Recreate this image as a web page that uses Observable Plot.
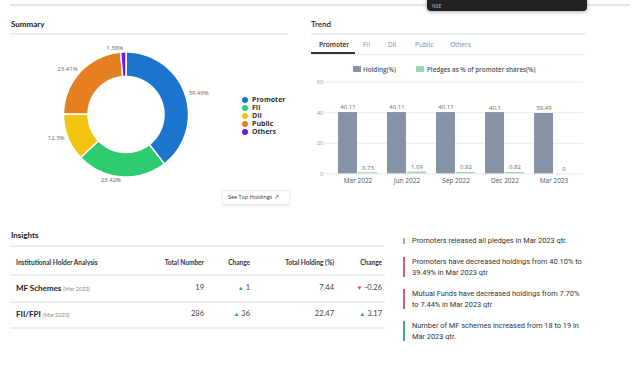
<!DOCTYPE html>
<html><head><meta charset="utf-8">
<script src="https://cdn.jsdelivr.net/npm/d3@7"></script>
<script src="https://cdn.jsdelivr.net/npm/@observablehq/plot@0.6"></script>
<style>
html,body{margin:0;padding:0;background:#fff;}
#page{position:relative;width:634px;height:366px;overflow:hidden;font-family:Lato,"Open Sans",sans-serif;color:#222;}
.abs{position:absolute;white-space:nowrap;}
.title{font-size:8px;font-weight:700;color:#222;}
.hr{position:absolute;height:2px;background:#eeeeee;}
.tab{position:absolute;top:40px;font-size:6.5px;color:#888;font-family:"Open Sans",sans-serif;}
.leg{position:absolute;left:242px;font-size:7px;font-weight:700;color:#333;font-family:"Open Sans",sans-serif;}
.leg i{display:inline-block;width:6px;height:6px;border-radius:50%;margin-right:4px;vertical-align:-1px;}
.th{position:absolute;top:259px;font-size:6.5px;font-weight:700;color:#333;}
.td{position:absolute;font-size:7.5px;color:#444;text-align:right;}
.ins{position:absolute;left:412px;width:172px;font-family:Roboto,sans-serif;font-size:7.4px;line-height:10.5px;color:#333;white-space:normal;}
.bar{position:absolute;left:403px;width:1.5px;}
</style></head>
<body><div id="page"></div>
<script>
// ---------- data ----------
const holders = ["Promoter","FII","DII","Public","Others"];
const holderPct = [39.49, 23.42, 12.3, 23.41, 1.38];
const holderColors = ["#1b74cd","#2ecc71","#f2c40f","#e67e22","#7018e8"];

const quarters = ["Mar 2022","Jun 2022","Sep 2022","Dec 2022","Mar 2023"];
const holding = [40.11, 40.11, 40.11, 40.1, 39.49];
const pledges = [0.73, 1.09, 0.82, 0.82, 0];
const yTicks = [0, 20, 40, 60];

const tableHeaders = ["Institutional Holder Analysis","Total Number","Change","Total Holding (%)","Change"];
const tableNames = ["MF Schemes","FII/FPI"];
const tableDates = ["(Mar 2023)","(Mar 2023)"];
const totalNumber = [19, 286];
const numberChange = [1, 36];
const totalHolding = ["7.44","22.47"];
const holdingChange = ["-0.26","3.17"];

const insights = [
  "Promoters released all pledges in Mar 2023 qtr.",
  "Promoters have decreased holdings from 40.10% to 39.49% in Mar 2023 qtr",
  "Mutual Funds have decreased holdings from 7.70% to 7.44% in Mar 2023 qtr",
  "Number of MF schemes increased from 18 to 19 in Mar 2023 qtr."
];
const insightTone = ["neutral","bad","bad","good"];

const page = document.getElementById("page");
function add(html){ page.insertAdjacentHTML("beforeend", html); }

// ---------- static frame ----------
add(`<div class="hr" style="left:10px;top:4px;width:620px;background:#e4e4e4"></div>`);
add(`<div class="abs" style="left:427px;top:-6px;width:160px;height:17px;background:#222;border-radius:4px;box-shadow:0 1px 4px rgba(0,0,0,.35)"><span style="position:absolute;left:5px;top:9px;font-size:5px;color:#bbb;font-family:'Open Sans'">NSE</span></div>`);
add(`<div class="abs title" style="left:11px;top:19px">Summary</div>`);
add(`<div class="hr" style="left:10px;top:33px;width:278px"></div>`);
add(`<div class="abs title" style="left:311px;top:19px;font-weight:600">Trend</div>`);
add(`<div class="hr" style="left:311px;top:33px;width:275px"></div>`);

// tabs
const tabs = [["Promoter",319],["FII",363],["DII",388],["Public",415],["Others",450]];
tabs.forEach(([t,x],i)=>add(`<div class="tab" style="left:${x}px;${i==0?'color:#222;font-weight:600':''}">${t}</div>`));
add(`<div class="hr" style="left:311px;top:54px;width:275px;height:1px"></div>`);
add(`<div class="abs" style="left:311px;top:52px;width:44px;height:2px;background:#333"></div>`);

// ---------- donut ----------
const pie = d3.pie().sort(null).value(d=>d)(holderPct);
const R0 = 38, R1 = 62.5;
const polys = [];
const labels = [];
pie.forEach((p,i)=>{
  const a0=p.startAngle, a1=p.endAngle;
  const n = Math.max(2, Math.ceil((a1-a0)/(Math.PI/180)));
  const pts=[];
  for(let k=0;k<=n;k++){const a=a0+(a1-a0)*k/n; pts.push([R1*Math.sin(a),R1*Math.cos(a)]);}
  for(let k=n;k>=0;k--){const a=a0+(a1-a0)*k/n; pts.push([R0*Math.sin(a),R0*Math.cos(a)]);}
  pts.push(pts[0]);
  pts.forEach(([x,y])=>polys.push({name:holders[i],x,y}));
  const m=(a0+a1)/2;
  labels.push({x:66*Math.sin(m), y:66*Math.cos(m), right:Math.sin(m)>0, text:`${holderPct[i]}%`});
});
const donut = Plot.plot({
  width:300, height:160, margin:0,
  x:{domain:[-125.5,174.5], range:[0,300], axis:null},
  y:{domain:[-86,74], range:[160,0], axis:null},
  color:{domain:holders, range:holderColors},
  style:{background:"transparent"},
  marks:[
    Plot.line(polys,{x:"x",y:"y",z:"name",fill:"name",stroke:"#fff",strokeWidth:1.5,curve:"linear"}),
    Plot.text(labels.filter(d=>d.right),{x:"x",y:"y",text:"text",textAnchor:"start",fontSize:6,fill:"#666",fontFamily:"Open Sans"}),
    Plot.text(labels.filter(d=>!d.right),{x:"x",y:"y",text:"text",textAnchor:"end",fontSize:6,fill:"#666",fontFamily:"Open Sans"})
  ]
});
donut.style.position="absolute"; donut.style.left="0px"; donut.style.top="40px";
page.appendChild(donut);

holders.forEach((h,i)=>add(`<div class="leg" style="top:${95+i*8}px"><i style="background:${holderColors[i]}"></i>${h}</div>`));
add(`<div class="abs" style="left:222px;top:190px;width:66px;height:13px;border:1px solid #eee;box-shadow:0 1px 2px rgba(0,0,0,.08);font-size:5.5px;line-height:13px;color:#333;text-indent:5px;font-family:'Open Sans'">See Top Holdings ↗</div>`);

// ---------- bar chart ----------
add(`<div class="abs" style="left:353px;top:66px;width:8px;height:6px;background:#8794a7"></div>`);
add(`<div class="abs" style="left:363px;top:65px;font-size:6.3px;font-weight:600;color:#555;font-family:'Open Sans'">Holding(%)</div>`);
add(`<div class="abs" style="left:416px;top:66px;width:8px;height:6px;background:#9fd6b1"></div>`);
add(`<div class="abs" style="left:427px;top:65px;font-size:6.3px;font-weight:600;color:#555;font-family:'Open Sans'">Pledges as % of promoter shares(%)</div>`);

const hData = quarters.map((q,i)=>({q,v:holding[i]}));
const pData = quarters.map((q,i)=>({q,v:pledges[i]}));
const bars = Plot.plot({
  width:300, height:135, marginLeft:25, marginRight:17, marginTop:21.7, marginBottom:21.7,
  x:{type:"band", domain:quarters, range:[37.3,274.4], paddingInner:0.21, paddingOuter:0, axis:null},
  y:{domain:[0,60], axis:null},
  style:{fontFamily:"Open Sans", background:"transparent"},
  marks:[
    Plot.ruleY(yTicks,{stroke:"#e9e9e9"}),
    Plot.axisY(yTicks,{tickSize:0,tickPadding:2,fontSize:6,fill:"#999",label:null}),
    Plot.axisX({tickSize:0,tickPadding:5,fontSize:6.5,fill:"#555",label:null}),
    Plot.barY(hData,{x:"q",y:"v",fill:"#8794a7",insetRight:20}),
    Plot.barY(pData,{x:"q",y:"v",fill:"#9fd6b1",insetLeft:20}),
    Plot.text(hData,{x:"q",y:"v",text:d=>String(d.v),dx:-10,dy:-5,fontSize:6,fill:"#666"}),
    Plot.text(pData,{x:"q",y:"v",text:d=>String(d.v),dx:10,dy:-5,fontSize:6,fill:"#666"})
  ]
});
bars.style.position="absolute"; bars.style.left="300px"; bars.style.top="60px";
page.appendChild(bars);

// ---------- insights table ----------
add(`<div class="abs title" style="left:11px;top:230px">Insights</div>`);
add(`<div class="hr" style="left:10px;top:245px;width:374px"></div>`);
const colRight = [null, 204, 250, 334, 382];
add(`<div class="th" style="left:16px">${tableHeaders[0]}</div>`);
for(let c=1;c<5;c++) add(`<div class="th" style="right:${634-colRight[c]}px">${tableHeaders[c]}</div>`);
add(`<div class="hr" style="left:10px;top:274px;width:375px"></div>`);
const rowY=[283,309];
tableNames.forEach((n,i)=>{
  const y=rowY[i];
  add(`<div class="abs" style="left:16px;top:${y}px;font-size:8px;font-weight:700;color:#222">${n} <span style="font-size:5.5px;font-weight:400;color:#888">${tableDates[i]}</span></div>`);
  add(`<div class="td" style="right:${634-204}px;top:${y}px">${totalNumber[i]}</div>`);
  add(`<div class="td" style="right:${634-250}px;top:${y}px"><span style="color:#2eaa6a;font-size:6px">▲</span> ${numberChange[i]}</div>`);
  add(`<div class="td" style="right:${634-334}px;top:${y}px">${totalHolding[i]}</div>`);
  const neg = holdingChange[i].startsWith("-");
  add(`<div class="td" style="right:${634-382}px;top:${y}px"><span style="color:${neg?'#e0405a':'#2eaa6a'};font-size:6px">${neg?'▼':'▲'}</span> ${holdingChange[i]}</div>`);
  add(`<div class="hr" style="left:10px;top:${y+18}px;width:375px"></div>`);
});

// ---------- insight notes ----------
const insTop=[236,257,289,321];
const toneColor={neutral:"#aaa",bad:"#e8566c",good:"#3cb36e"};
insights.forEach((t,i)=>{
  const h = i==0?6:20;
  add(`<div class="bar" style="top:${insTop[i]+(i==0?2:0)}px;height:${h}px;background:${toneColor[insightTone[i]]}"></div>`);
  add(`<div class="ins" style="top:${insTop[i]}px">${t}</div>`);
});
</script></body></html>
